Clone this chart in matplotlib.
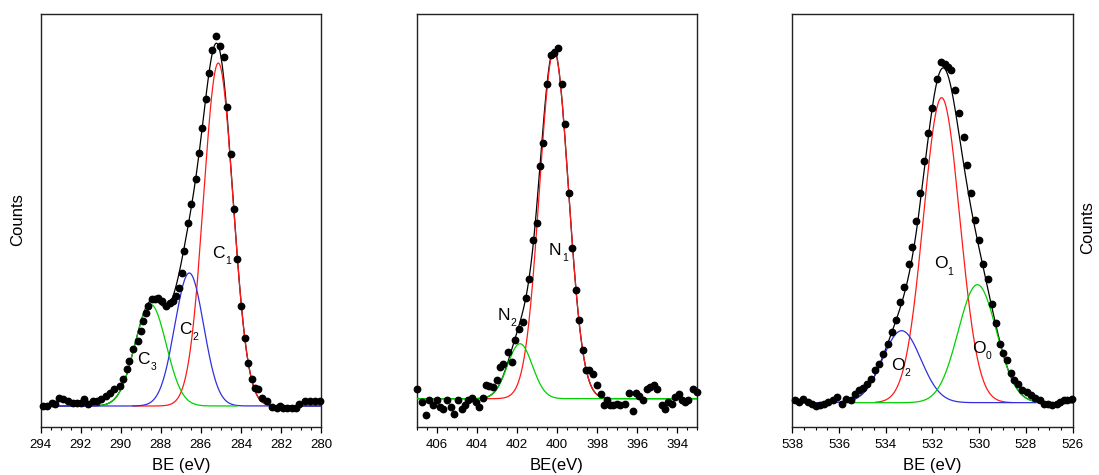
import numpy as np
import matplotlib
matplotlib.use("Agg")
import matplotlib.pyplot as plt
from matplotlib.ticker import MultipleLocator

plt.rcParams['font.family'] = ['Liberation Sans', 'DejaVu Sans']

# ---------------- data (binding energy in eV, intensity in arbitrary counts) ----------------
# C 1s
c_be = [293.90, 293.70, 293.45, 293.28, 293.07, 292.87, 292.62, 292.40, 292.20, 291.99,
        291.82, 291.62, 291.40, 291.20, 290.99, 290.74, 290.54, 290.32, 290.04, 289.87,
        289.70, 289.57, 289.37, 289.16, 289.01, 288.87, 288.76, 288.62, 288.46, 288.29,
        288.12, 287.92, 287.74, 287.54, 287.37, 287.24, 287.09, 286.96, 286.83, 286.66,
        286.48, 286.26, 286.09, 285.94, 285.76, 285.59, 285.43, 285.24, 285.06, 284.86,
        284.68, 284.51, 284.33, 284.18, 283.98, 283.80, 283.65, 283.46, 283.31, 283.13,
        282.93, 282.71, 282.46, 282.21, 282.05, 281.88, 281.71, 281.46, 281.25, 281.08,
        280.80, 280.55, 280.30, 280.05]
c_counts = [21.0, 21.0, 24.3, 22.7, 29.3, 27.7, 26.0, 24.3, 24.3, 24.3,
            27.7, 22.7, 26.0, 26.0, 27.7, 31.0, 34.3, 37.7, 41.0, 47.7,
            57.7, 66.0, 77.7, 86.0, 96.0, 106.0, 114.3, 121.0, 127.7, 127.7,
            129.3, 126.0, 121.0, 124.3, 126.0, 131.0, 139.3, 154.3, 176.0, 204.3,
            222.7, 247.7, 274.3, 299.3, 327.7, 354.3, 377.0, 391.0, 381.0, 370.0,
            320.0, 272.7, 217.7, 167.7, 121.0, 89.3, 64.3, 47.7, 39.3, 37.7,
            29.3, 26.0, 20.0, 19.3, 21.0, 18.7, 18.7, 18.7, 19.3, 22.7,
            26.0, 26.0, 26.0, 26.0]
c_background = 21.0
c_peak_names = ['C1', 'C2', 'C3']
c_peak_centers = [285.13, 286.58, 288.51]
c_peak_heights = [343.0, 133.0, 101.7]
c_peak_sigmas = [0.735, 0.72, 0.78]
c_peak_ranges = [(289.4, 282.0), (294.0, 280.0), (291.0, 284.2)]
c_label_pos = [(285.13, 174.0), (286.77, 98.0), (288.87, 68.0)]

# N 1s
n_be = [406.97, 406.75, 406.53, 406.37, 406.20, 406.00, 405.84, 405.67, 405.50, 405.30,
        405.14, 404.92, 404.76, 404.59, 404.42, 404.22, 404.04, 403.87, 403.71, 403.54,
        403.38, 403.18, 403.01, 402.84, 402.68, 402.43, 402.26, 402.09, 401.88, 401.71,
        401.56, 401.38, 401.21, 401.01, 400.85, 400.68, 400.52, 400.32, 400.15, 399.93,
        399.77, 399.60, 399.40, 399.23, 399.05, 398.89, 398.72, 398.57, 398.39, 398.19,
        397.99, 397.82, 397.66, 397.52, 397.36, 397.19, 397.02, 396.86, 396.61, 396.39,
        396.23, 396.06, 395.89, 395.69, 395.53, 395.36, 395.16, 394.99, 394.78, 394.61,
        394.45, 394.28, 394.11, 393.90, 393.78, 393.61, 393.45, 393.20, 393.03]
n_counts = [38.3, 25.0, 11.7, 27.3, 21.7, 26.7, 20.0, 18.3, 27.3, 20.0,
            13.3, 27.3, 18.3, 21.7, 26.7, 29.3, 25.0, 20.0, 29.3, 41.7,
            40.7, 40.0, 46.7, 60.0, 63.3, 75.0, 65.0, 86.7, 98.3, 105.0,
            129.0, 148.3, 186.7, 204.0, 260.7, 284.0, 342.7, 371.7, 374.0, 379.3,
            342.7, 303.3, 234.0, 179.3, 137.3, 107.3, 76.7, 56.7, 56.7, 53.3,
            41.7, 33.3, 21.7, 26.7, 21.7, 21.7, 23.3, 21.7, 23.3, 34.0,
            16.0, 34.0, 30.7, 26.7, 38.3, 40.0, 41.7, 38.3, 21.7, 18.3,
            25.0, 23.3, 30.0, 33.3, 26.7, 25.0, 26.7, 38.3, 35.0]
n_background = 28.3
n_peak_names = ['N1', 'N2']
n_peak_centers = [400.15, 401.85]
n_peak_heights = [348.0, 55.0]
n_peak_sigmas = [0.72, 0.62]
n_peak_ranges = [(403.75, 397.4), (407.0, 393.0)]
n_label_pos = [(400.10, 176.7), (402.64, 111.7)]

# O 1s
o_be = [537.89, 537.70, 537.53, 537.34, 537.17, 536.99, 536.82, 536.64, 536.46, 536.27,
        536.07, 535.89, 535.70, 535.50, 535.32, 535.13, 534.96, 534.79, 534.62, 534.46,
        534.29, 534.10, 533.92, 533.75, 533.56, 533.39, 533.21, 533.02, 532.86, 532.71,
        532.52, 532.36, 532.18, 532.00, 531.82, 531.64, 531.46, 531.32, 531.22, 531.04,
        530.85, 530.65, 530.51, 530.35, 530.18, 530.01, 529.82, 529.61, 529.45, 529.28,
        529.11, 528.97, 528.82, 528.65, 528.51, 528.33, 528.15, 527.97, 527.80, 527.61,
        527.40, 527.23, 527.04, 526.87, 526.68, 526.54, 526.37, 526.23, 526.04]
o_counts = [27.3, 25.0, 28.3, 25.0, 23.3, 21.0, 21.7, 22.7, 25.0, 27.3,
            30.0, 22.7, 28.3, 26.7, 33.3, 36.7, 39.3, 43.3, 48.3, 56.7,
            62.7, 72.7, 83.3, 95.0, 107.3, 125.0, 140.0, 163.3, 180.0, 206.0,
            234.0, 266.0, 294.0, 319.3, 348.3, 364.7, 362.7, 360.0, 356.7, 336.7,
            314.0, 290.0, 261.7, 234.0, 206.7, 187.3, 163.3, 148.3, 123.3, 104.0,
            83.3, 74.0, 66.7, 54.0, 47.3, 42.7, 37.3, 34.7, 31.7, 29.3,
            27.3, 23.3, 22.7, 21.7, 23.3, 25.0, 26.7, 27.3, 28.3]
o_background = 24.3
o_peak_names = ['O1', 'O2', 'O0']
o_peak_centers = [531.61, 533.32, 530.08]
o_peak_heights = [305.0, 72.0, 118.0]
o_peak_sigmas = [0.78, 0.82, 0.82]
o_peak_ranges = [(534.45, 528.6), (538.0, 526.0), (535.6, 527.4)]
o_label_pos = [(531.64, 163.0), (533.49, 61.7), (530.01, 78.3)]

# ---------------- figure ----------------
W, H = 1099, 475
fig = plt.figure(figsize=(W / 100, H / 100), dpi=100)

RED, BLUE, GREEN = '#ff1a1a', '#3030e0', '#00d000'


def gauss(x, c, a, s):
    return a * np.exp(-0.5 * ((x - c) / s) ** 2)


panels = [
    dict(rect=(40.7, 321.0), xlim=(294, 280), be=c_be, counts=c_counts, bg=c_background,
         names=c_peak_names, centers=c_peak_centers, heights=c_peak_heights,
         sigmas=c_peak_sigmas, ranges=c_peak_ranges, labels=c_label_pos,
         colors=[RED, BLUE, GREEN], order=[1, 0, 2], xlabel='BE (eV)'),
    dict(rect=(416.7, 697.3), xlim=(407, 393), be=n_be, counts=n_counts, bg=n_background,
         names=n_peak_names, centers=n_peak_centers, heights=n_peak_heights,
         sigmas=n_peak_sigmas, ranges=n_peak_ranges, labels=n_label_pos,
         colors=[RED, GREEN], order=[0, 1], xlabel='BE(eV)'),
    dict(rect=(792.3, 1072.7), xlim=(538, 526), be=o_be, counts=o_counts, bg=o_background,
         names=o_peak_names, centers=o_peak_centers, heights=o_peak_heights,
         sigmas=o_peak_sigmas, ranges=o_peak_ranges, labels=o_label_pos,
         colors=[RED, BLUE, GREEN], order=[1, 0, 2], xlabel='BE (eV)'),
]

top_px, bot_px = 14.0, 427.0
for p in panels:
    l, r = p['rect']
    ax = fig.add_axes([l / W, 1 - bot_px / H, (r - l) / W, (bot_px - top_px) / H])
    ax.set_xlim(*p['xlim'])
    ax.set_ylim(0, 413)

    lo, hi = min(p['xlim']), max(p['xlim'])
    xs = np.linspace(lo, hi, 800)
    env = np.full_like(xs, p['bg'])
    for c, a, s in zip(p['centers'], p['heights'], p['sigmas']):
        env += gauss(xs, c, a, s)
    ax.plot(xs, env, color='black', lw=0.9, zorder=2)

    for i in p['order']:
        r0, r1 = sorted(p['ranges'][i])
        xx = np.linspace(r0, r1, 600)
        yy = p['bg'] + gauss(xx, p['centers'][i], p['heights'][i], p['sigmas'][i])
        ax.plot(xx, yy, color=p['colors'][i], lw=0.9, zorder=3 + i * 0.1)

    ax.plot(p['be'], p['counts'], 'o', color='black', ms=4.6, mec='black', zorder=5,
            clip_on=False)

    for name, (lx, ly) in zip(p['names'], p['labels']):
        ax.text(lx, ly, name[0], fontsize=12.5, ha='center', va='center', zorder=6)
        ax.annotate(name[1:], (lx, ly), xytext=(7.0, -5.5), textcoords='offset points',
                    fontsize=7.5, ha='center', va='center', zorder=6)

    ax.xaxis.set_major_locator(MultipleLocator(2))
    ax.xaxis.set_minor_locator(MultipleLocator(0.5))
    ax.tick_params(axis='x', which='major', direction='out', length=4, width=0.9,
                   labelsize=9.5, pad=4.5, top=False)
    ax.tick_params(axis='x', which='minor', direction='out', length=2.2, width=0.8, top=False)
    ax.tick_params(axis='y', which='both', left=False, right=False,
                   labelleft=False, labelright=False)
    for sp in ax.spines.values():
        sp.set_linewidth(1.0)
        sp.set_color('#222222')
    ax.set_xlabel(p['xlabel'], fontsize=12, labelpad=5)

fig.text(18 / W, 1 - 220 / H, 'Counts', fontsize=12, rotation=90, ha='center', va='center')
fig.text(1088 / W, 1 - 228 / H, 'Counts', fontsize=12, rotation=90, ha='center', va='center')

fig.savefig('out.png', dpi=100)
